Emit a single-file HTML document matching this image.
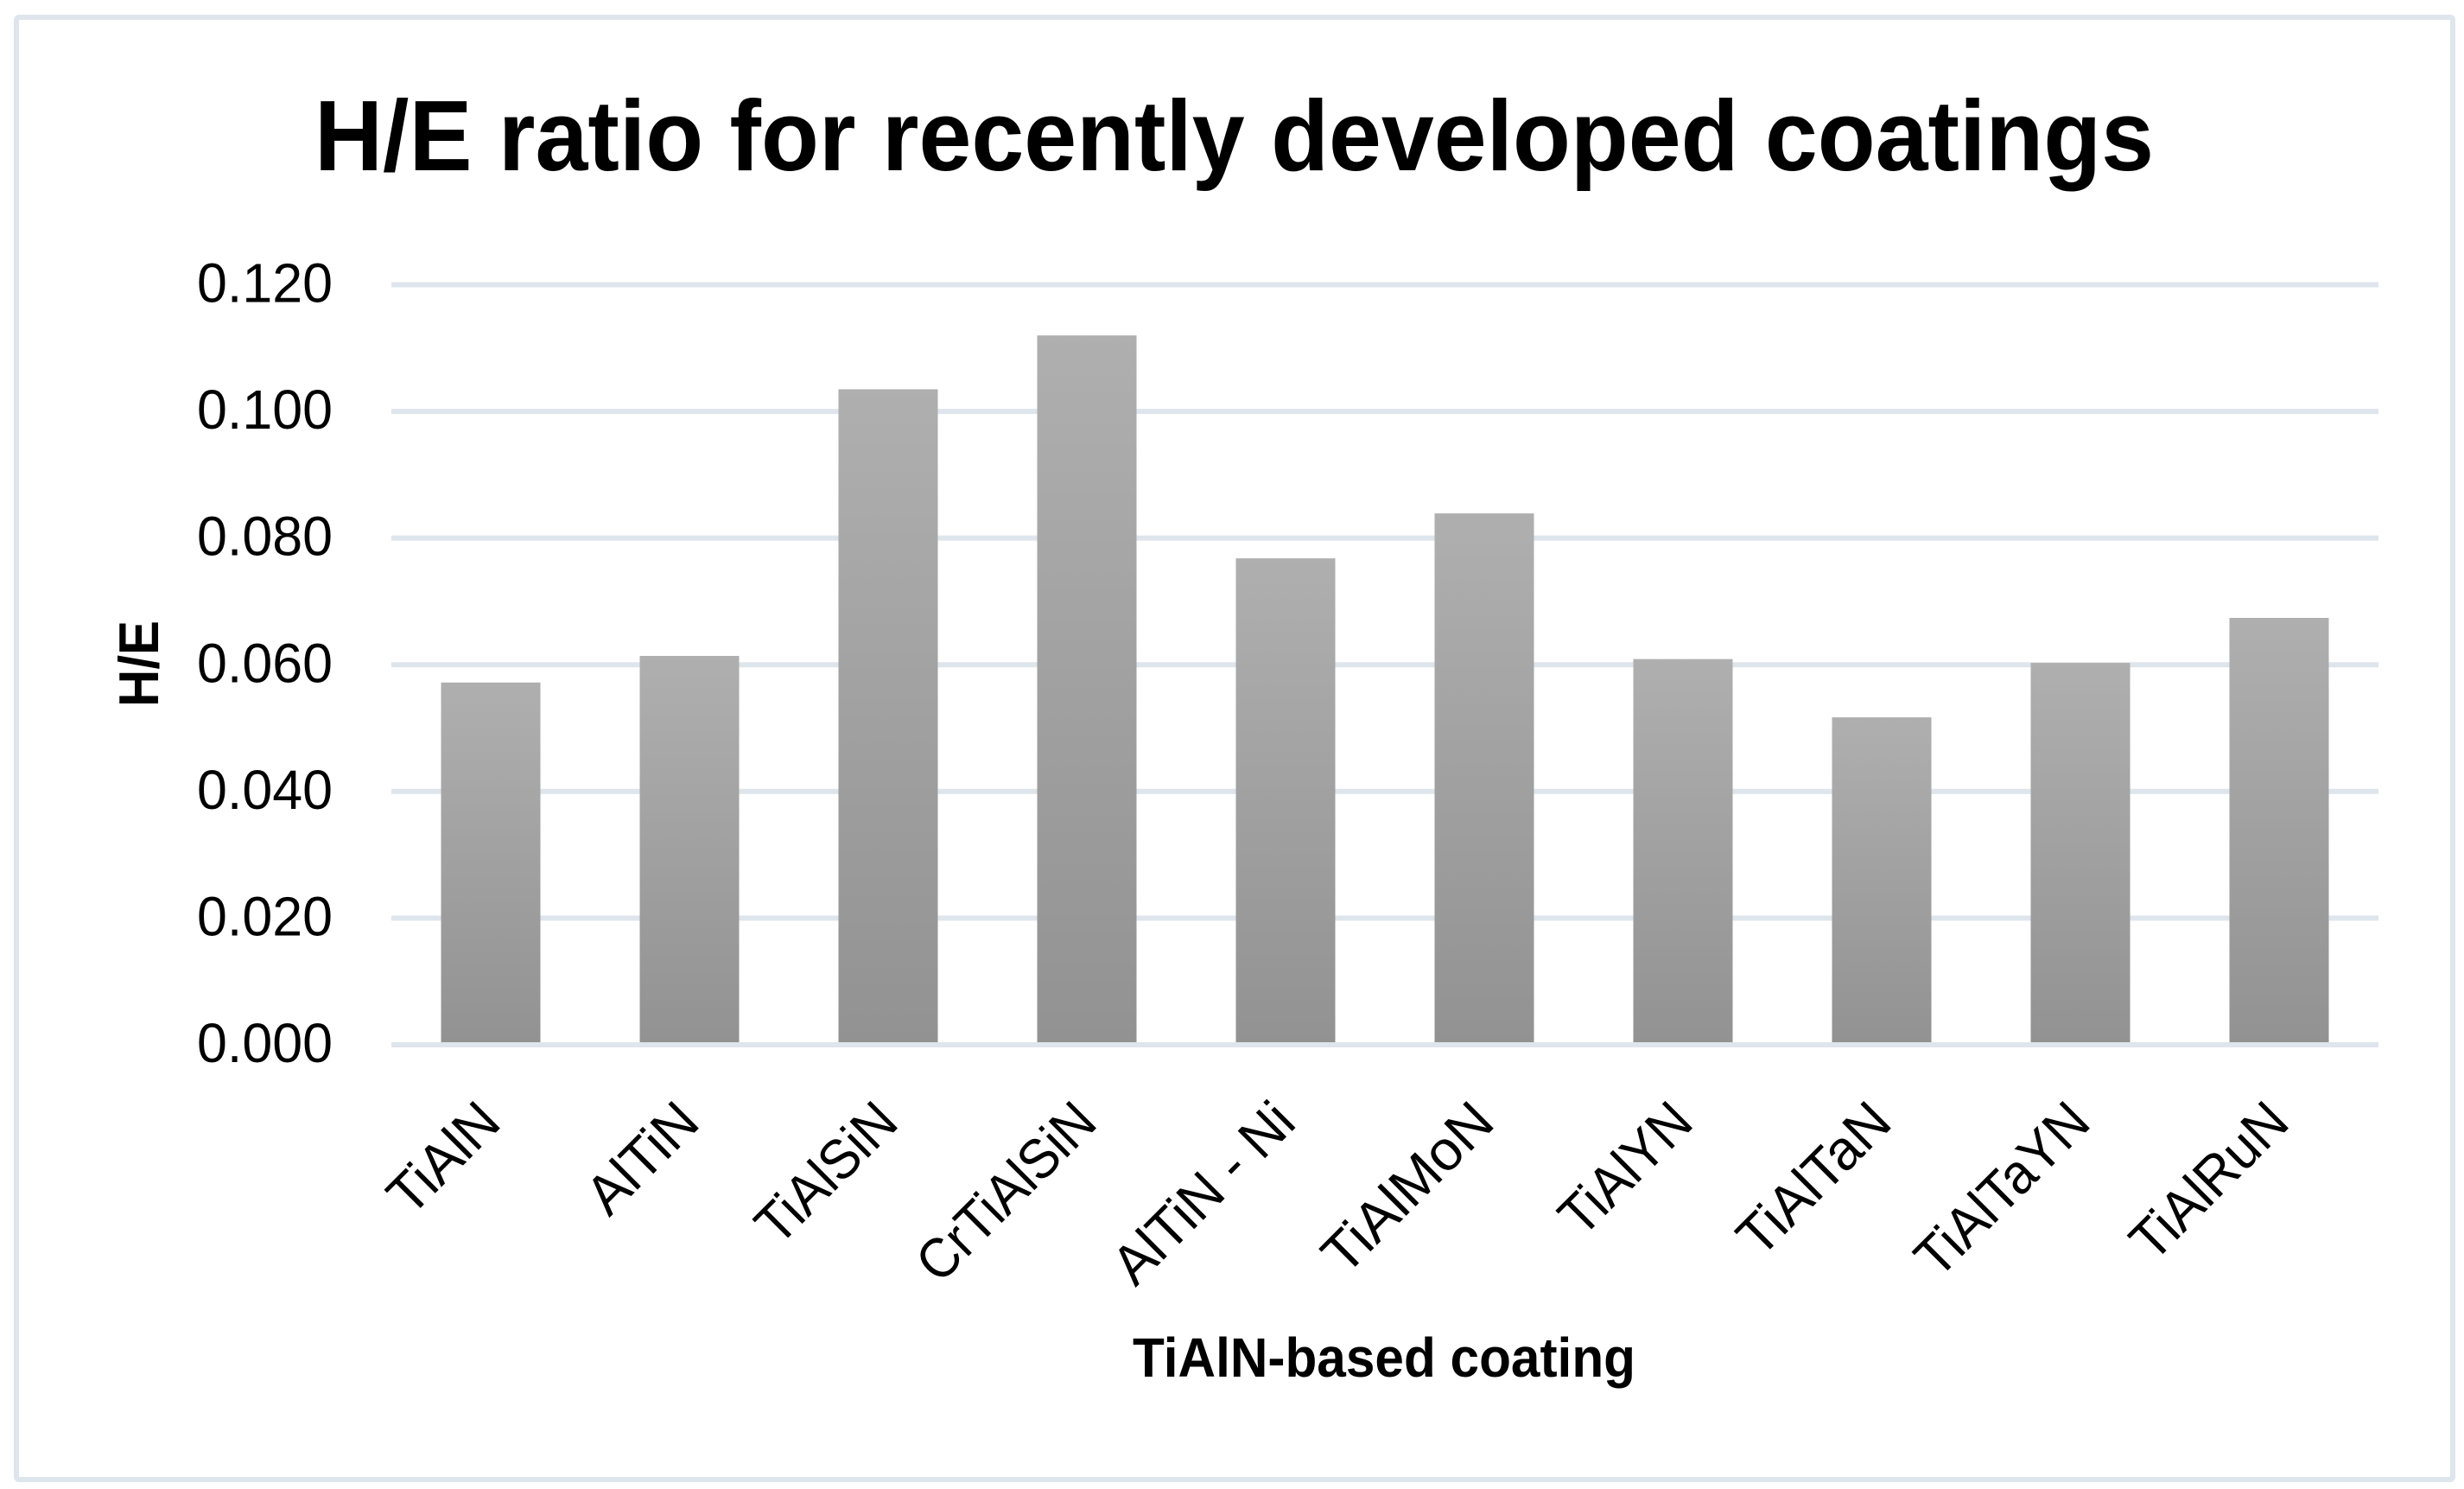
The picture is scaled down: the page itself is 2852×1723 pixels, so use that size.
<!DOCTYPE html>
<html lang="en">
<head>
<meta charset="utf-8">
<title>H/E ratio for recently developed coatings</title>
<style>
html,body{margin:0;padding:0;background:#fff;width:2852px;height:1723px;overflow:hidden}
svg{display:block}
text{font-family:"Liberation Sans",sans-serif;fill:#000}
</style>
</head>
<body>
<svg id="chart" xmlns="http://www.w3.org/2000/svg" width="2852" height="1723" viewBox="0 0 2852 1723">
  <defs>
    <linearGradient id="barFill" x1="0" y1="0" x2="0" y2="1">
      <stop offset="0" stop-color="#afafaf"/>
      <stop offset="1" stop-color="#929292"/>
    </linearGradient>
  </defs>
  <rect x="0" y="0" width="2852" height="1723" fill="#fff"/>
  <rect x="19" y="20" width="2820" height="1692" rx="3" fill="#fff" stroke="#dfe5ec" stroke-width="6"/>
  <text x="364" y="197" font-size="116" font-weight="700" textLength="2129" lengthAdjust="spacingAndGlyphs">H/E ratio for recently developed coatings</text>
  <g id="gridlines"></g>
  <g id="bars"></g>
  <g id="baseline"></g>
  <g id="yTicks"></g>
  <g id="xTicks"></g>
  <text transform="translate(183 818) rotate(-90)" font-size="65" font-weight="700" textLength="100" lengthAdjust="spacingAndGlyphs">H/E</text>
  <text x="1311" y="1593" font-size="64" font-weight="700" textLength="582" lengthAdjust="spacingAndGlyphs">TiAlN-based coating</text>
</svg>
<script>
const categories = ['TiAlN', 'AlTiN', 'TiAlSiN', 'CrTiAlSiN', 'AlTiN - Ni', 'TiAlMoN', 'TiAlYN', 'TiAlTaN', 'TiAlTaYN', 'TiAlRuN'];
const heValues = [0.0572, 0.0614, 0.1035, 0.1120, 0.0768, 0.0839, 0.0609, 0.0517, 0.0603, 0.0674];
const yTickValues = [0, 0.02, 0.04, 0.06, 0.08, 0.1, 0.12];
const yTickLabels = ['0.000', '0.020', '0.040', '0.060', '0.080', '0.100', '0.120'];

const NS = 'http://www.w3.org/2000/svg';
const plotLeft = 453, plotRight = 2753, plotTop = 329.5, plotBottom = 1209, yMax = 0.12;
const yScale = v => plotBottom - (v / yMax) * (plotBottom - plotTop);
const band = (plotRight - plotLeft) / categories.length;
const xCenter = i => plotLeft + band * (i + 0.5);
const barWidth = band / 2;

// Per-character advance widths (em) of the reference's narrower typeface, used to fit label lengths.
const labelAdvance = {T:.487,i:.229,A:.579,l:.229,N:.646,S:.459,C:.533,r:.349,M:.855,o:.527,Y:.487,a:.479,R:.543,u:.525,' ':.226,'-':.306};
const labelLength = s => [...s].reduce((sum, c) => sum + (labelAdvance[c] || .5), 0) * 70;

function make(tag, attrs, parent) {
  const el = document.createElementNS(NS, tag);
  for (const k in attrs) el.setAttribute(k, attrs[k]);
  parent.appendChild(el);
  return el;
}

const gridG = document.getElementById('gridlines');
const barsG = document.getElementById('bars');
const baseG = document.getElementById('baseline');
const yG = document.getElementById('yTicks');
const xG = document.getElementById('xTicks');

yTickValues.forEach((v, i) => {
  const parent = v === 0 ? baseG : gridG;
  const line = make('rect', {x: plotLeft, y: yScale(v) - 3, width: plotRight - plotLeft, height: 6, fill: '#dfe5ec'}, parent);
  
  

  const label = make('text', {x: 228, y: yScale(v) + 20, 'font-size': 64, textLength: 157, lengthAdjust: 'spacingAndGlyphs'}, yG);
  
  
  label.textContent = yTickLabels[i];
});

categories.forEach((name, i) => {
  const top = yScale(heValues[i]);
  const bar = make('rect', {x: xCenter(i) - barWidth / 2, y: top, width: barWidth, height: plotBottom - top, fill: 'url(#barFill)'}, barsG);
  
  

  const label = make('text', {
    transform: 'translate(' + (xCenter(i) + 14.5) + ' 1302) rotate(-45)',
    'text-anchor': 'end',
    'font-size': 65,
    textLength: labelLength(name),
    lengthAdjust: 'spacingAndGlyphs'
  }, xG);
  
  
  label.textContent = name;
});
</script>
</body>
</html>
